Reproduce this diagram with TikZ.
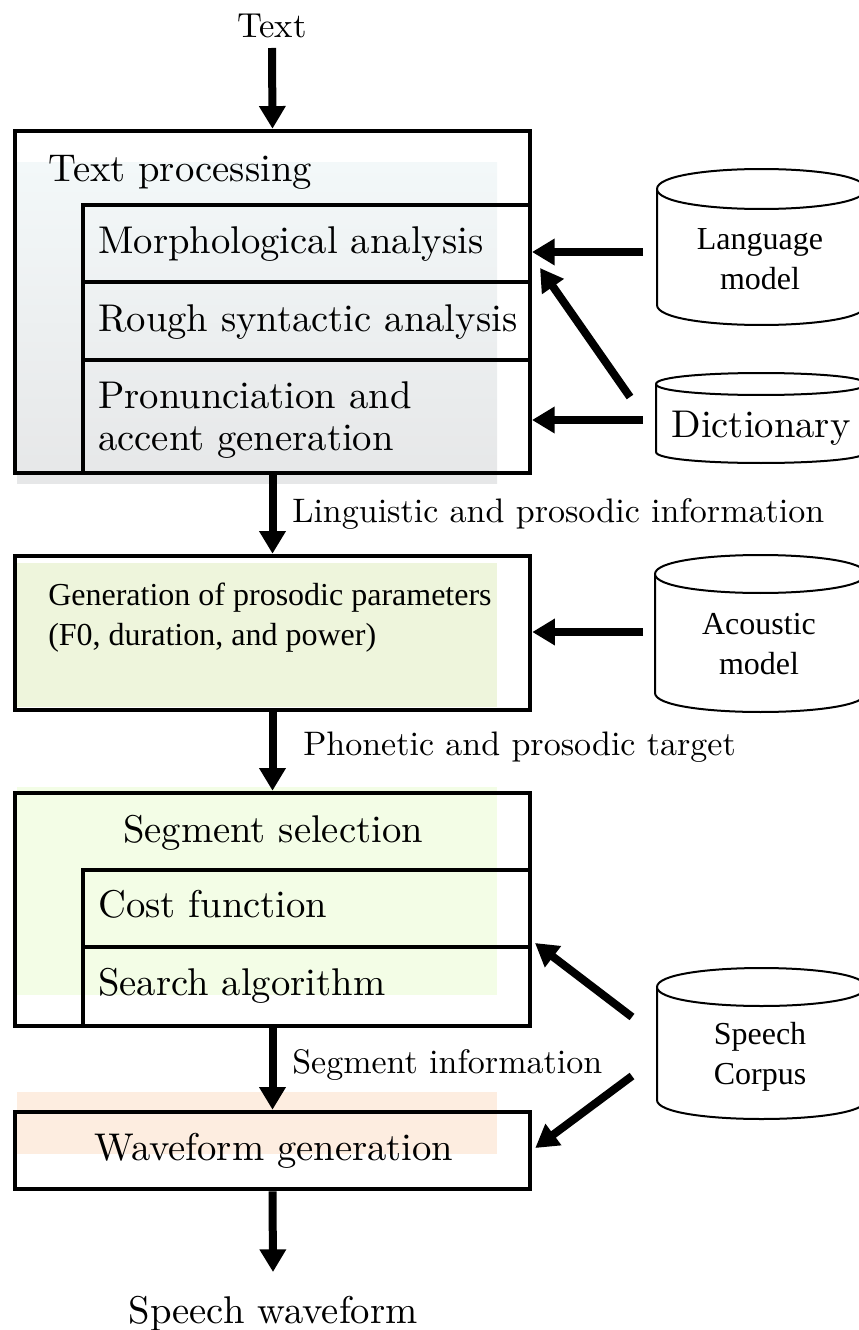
\documentclass[tikz,border=0pt]{standalone}
\usepackage{fontspec}
\setmainfont{lmroman10-regular}[Extension=.otf]
\newfontfamily\serifTimes{LiberationSerif-Regular.ttf}
\usetikzlibrary{arrows.meta,fit,calc}
\definecolor{cAtop}{HTML}{F3F8F9}
\definecolor{cAbot}{HTML}{E6E7E8}
\definecolor{cB}{HTML}{EEF5DC}
\definecolor{cC}{HTML}{F3FDE6}
\definecolor{cD}{HTML}{FDEDE0}
\newcommand\mycyl[5]{%
  \filldraw[db] (#1,#3) -- (#1,#4) .. controls (#1,#4+1.333*#5) and (#2,#4+1.333*#5) .. (#2,#4) -- (#2,#3) .. controls (#2,#3-1.333*#5) and (#1,#3-1.333*#5) .. cycle;
  \draw[db] (#1,#3) .. controls (#1,#3+1.333*#5) and (#2,#3+1.333*#5) .. (#2,#3);}
\begin{document}
\begin{tikzpicture}[x=0.75pt,y=-0.75pt,
  box/.style={draw,line width=3.4pt,inner sep=0pt},
  sub/.style={draw,line width=3pt,inner sep=0pt},
  cyl/.style={inner sep=0pt,outer sep=0pt},
  arr/.style={line width=6pt,-{Triangle[length=17pt,width=19pt]}},
  big/.style={font=\fontsize{29}{35}\selectfont,inner sep=0pt},
  lab/.style={font=\fontsize{25.5}{30}\selectfont,inner sep=0pt},
  tmt/.style={font=\fontsize{24}{29}\serifTimes,inner sep=0pt},
  tmc/.style={font=\fontsize{24}{30}\serifTimes,inner sep=0pt,align=center},
  db/.style={line width=1.5pt,fill=white}]
\useasboundingbox (0,0) rectangle (859,1330);
\clip (0,0) rectangle (859,1330);
% fills
\fill[top color=cAtop,bottom color=cAbot] (17,163) rectangle (497,483);
\fill[cB] (17,563) rectangle (497,707);
\fill[cC] (17,787) rectangle (497,995);
\fill[cD] (17,1092) rectangle (497,1154);
% boxes
\node[box,fit={(15,131)(530,473)}] (tp) {};
\node[sub,fit={(83,205)(530,282)}] (morph) {};
\node[sub,fit={(83,282)(530,360)}] (rough) {};
\node[sub,fit={(83,360)(530,473)}] (pron) {};
\node[box,fit={(15,556)(530,710)}] (gp) {};
\node[box,fit={(15,793)(530,1026)}] (ss) {};
\node[sub,fit={(83,870)(530,947)}] (cost) {};
\node[sub,fit={(83,947)(530,1026)}] (search) {};
\node[box,fit={(15,1112)(530,1189)}] (wg) {};
% texts
\node[lab,font=\fontsize{26}{30}\selectfont,anchor=base] (txt) at (272,38) {Text};
\node[big,anchor=base west] (tpt) at (48,182) {Text processing};
\node[big,anchor=base west] (mt) at (98,253) {Morphological analysis};
\node[big,anchor=base west] (rt) at (98,331) {Rough syntactic analysis};
\node[big,anchor=base west] (pt1) at (98,408) {Pronunciation and};
\node[big,anchor=base west] (pt2) at (98,450) {accent generation};
\node[tmt,anchor=base west] (gt1) at (48,605) {Generation of prosodic parameters};
\node[tmt,anchor=base west] (gt2) at (48,645) {(F0, duration, and power)};
\node[big,anchor=base] (sst) at (273,842) {Segment selection};
\node[big,anchor=base west] (ct) at (98,917) {Cost function};
\node[big,anchor=base west] (st) at (98,995) {Search algorithm};
\node[big,anchor=base] (wgt) at (274,1160) {Waveform generation};
\node[big,anchor=base] (sw) at (273,1323) {Speech waveform};
\node[lab,anchor=base west] (l1) at (292,522) {Linguistic and prosodic information};
\node[lab,anchor=base west] (l2) at (303,755) {Phonetic and prosodic target};
\node[lab,anchor=base west] (l3) at (292,1073) {Segment information};
% cylinders
\mycyl{657}{866}{189}{305}{20}
\node[cyl,fit={(657,167)(866,325)}] (lmc) {};
\node[tmc] (lmt) at (760,259) {Language\\model};
\mycyl{656}{866}{384}{452}{11}
\node[cyl,fit={(656,373)(866,463)}] (dicc) {};
\node[big,anchor=base] (dict) at (761,437) {Dictionary};
\mycyl{655}{866}{574}{693}{19}
\node[cyl,fit={(655,555)(866,713)}] (acc) {};
\node[tmc] (act) at (759,644) {Acoustic\\model};
\mycyl{657}{866}{987}{1100}{19}
\node[cyl,fit={(657,967)(866,1119)}] (scc) {};
\node[tmc] (sct) at (760,1057) {Speech\\Corpus};
% vertical arrows
\draw[arr] ([yshift=-7.5pt]txt.base) -- (tp.north);
\draw[arr] (tp.south) -- (gp.north);
\draw[arr] (gp.south) -- (ss.north);
\draw[arr] (ss.south) -- (wg.north);
\draw[arr] (wg.south) -- ([yshift=38.25pt]sw.base);
% side arrows
\draw[arr,shorten <=10.5pt] ($(lmc.west)+(0,6)$) -- ($(morph.east)+(0,8.5)$);
\draw[arr] ($(dicc.west)+(-26,-21)$) -- ($(morph.east)+(8,24.5)$);
\draw[arr,shorten <=9.75pt] ($(dicc.west)+(0,2)$) -- ($(pron.east)+(0,3.5)$);
\draw[arr,shorten <=9pt] ($(acc.west)+(0,-2)$) -- ($(gp.east)+(0,-1)$);
\draw[arr] ($(scc.west)+(-25,-26)$) -- ($(search.north east)+(3,-2)$);
\draw[arr] ($(scc.west)+(-25,33)$) -- ($(wg.east)+(3,-2.5)$);
\end{tikzpicture}
\end{document}
